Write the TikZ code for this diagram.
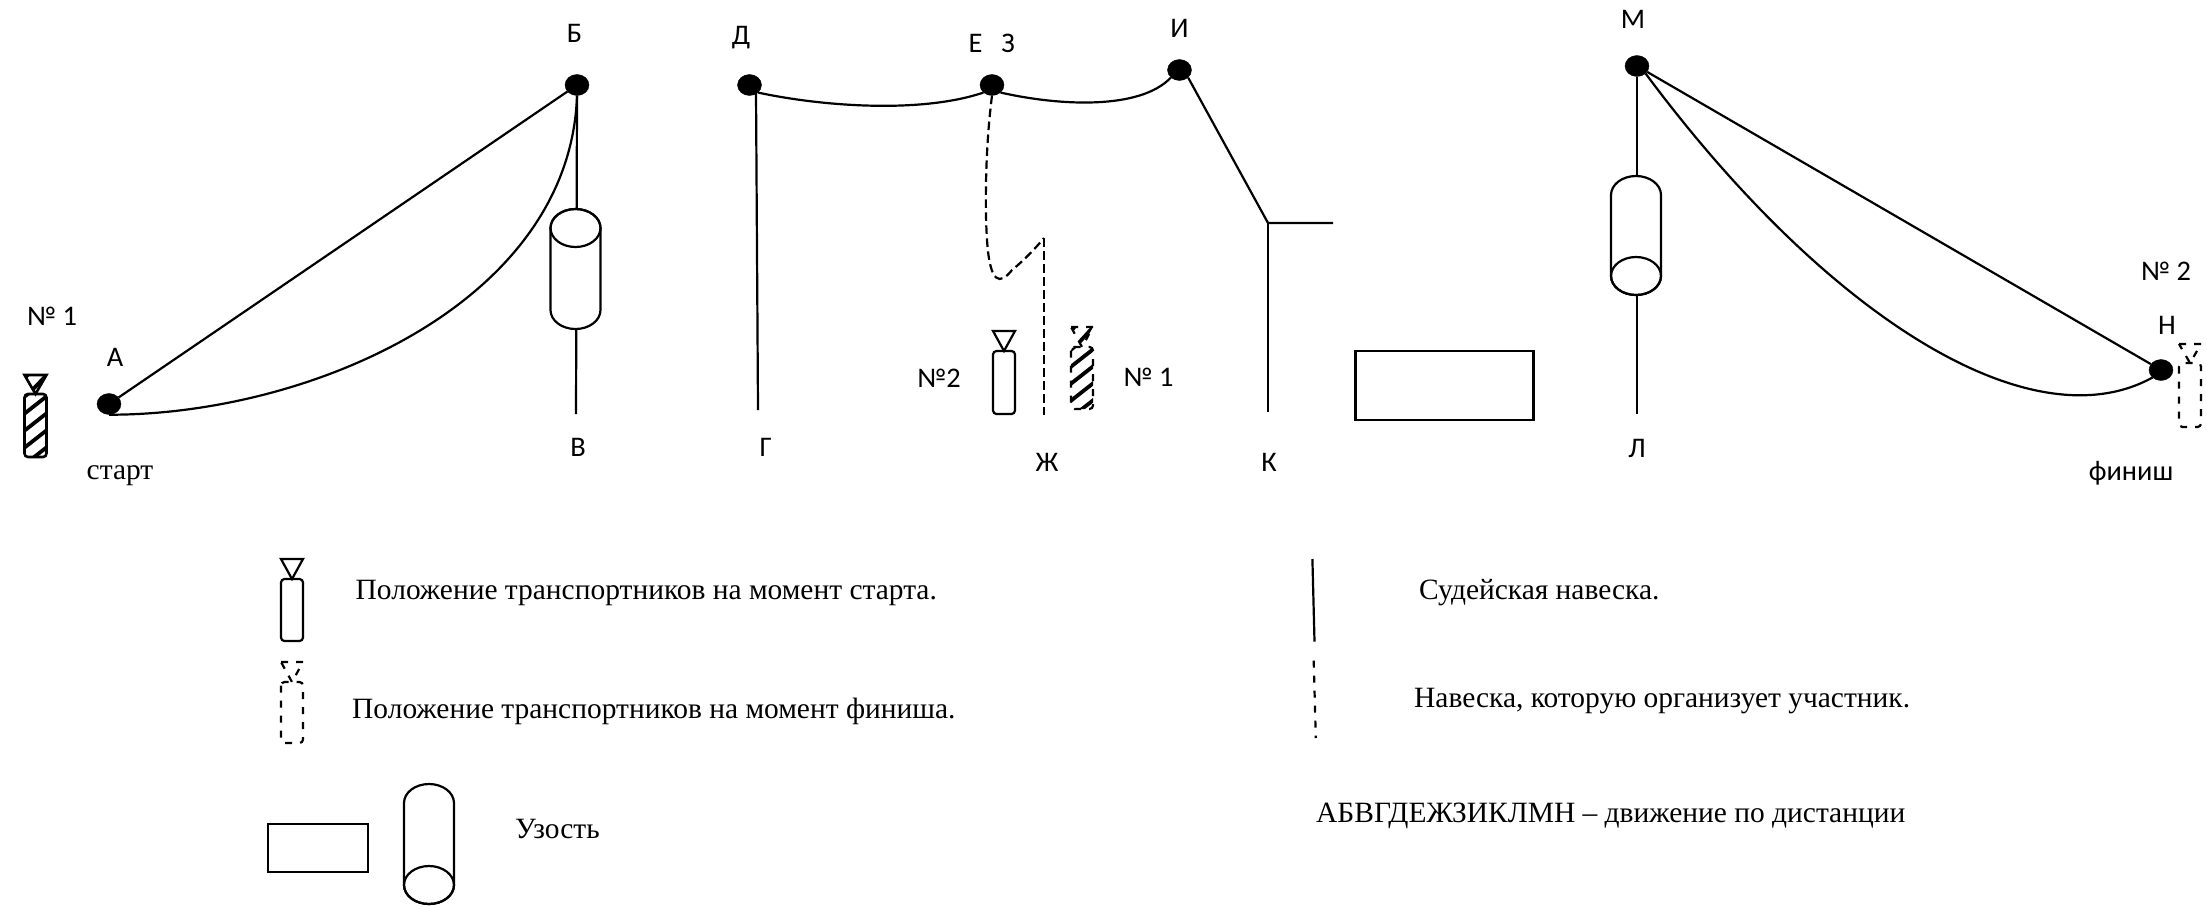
\documentclass[tikz,border=0pt]{standalone}
\usepackage{fontspec}
\setmainfont{Liberation Serif}
\newfontfamily\labfont{Carlito}
\usetikzlibrary{shapes.geometric}
\tikzset{
  line/.style={line width=2.2pt,line cap=butt},
  dashline/.style={line width=2.2pt,dash pattern=on 8.5pt off 4.5pt},
  smalldash/.style={line width=2.2pt,dash pattern=on 7pt off 8pt},
  hold/.style={ellipse,fill=black,draw=black,minimum width=24pt,minimum height=21pt,inner sep=0pt},
  lab/.style={font=\labfont\fontsize{28.4}{32}\selectfont,inner sep=0pt},
  ser/.style={font=\fontsize{29.45}{34}\selectfont,inner sep=0pt,anchor=base west},
  cylbody/.style={line width=2.2pt,draw=black,fill=white}
}
% style, left x, triangle top, apex y, bottom y
\newcommand{\transp}[5]{%
  \draw[#1] (#2,#3) -- (#2+22,#3) -- (#2+11,#4) -- cycle;
  \draw[#1,rounded corners=3.5pt] (#2,#4) rectangle (#2+22,#5);}
\newcommand{\hatched}[4]{%
  \begin{scope}
    \clip[rounded corners=3.5pt] (#1,#3) rectangle (#1+22,#4);
    \foreach \k in {-1,...,4}
      \draw[line width=3.8pt] (#1-3,#3+\k*17+22) -- (#1+25,#3+\k*17);
  \end{scope}
  \begin{scope}
    \clip (#1,#2) -- (#1+22,#2) -- (#1+11,#3) -- cycle;
    \draw[line width=3.8pt] (#1+4,#3) -- (#1+24,#2-2);
    \draw[line width=3.8pt] (#1-6,#3-8) -- (#1+8,#2-6);
  \end{scope}}
\newcommand{\cylshell}[3]{%
  \draw[cylbody] (#1-25,#2+19) arc[start angle=180,end angle=360,x radius=25,y radius=19]
    -- (#1+25,#3-19) arc[start angle=0,end angle=180,x radius=25,y radius=19] -- cycle;}
\newcommand{\cyltop}[3]{\cylshell{#1}{#2}{#3}%
  \draw[line width=2.2pt] (#1,#2+19) ellipse[x radius=25,y radius=19];}
\newcommand{\cylbot}[3]{\cylshell{#1}{#2}{#3}%
  \draw[line width=2.2pt] (#1,#3-19) ellipse[x radius=25,y radius=19];}
\begin{document}
\begin{tikzpicture}[x=1pt,y=-1pt]
\useasboundingbox (0,0) rectangle (2207,906);

% anchor points
\node[hold] (A) at (109,404) {};
\node[hold] (B) at (577,85) {};
\node[hold] (D) at (749.5,85) {};
\node[hold] (E) at (992,85) {};
\node[hold] (I) at (1179.5,70) {};
\node[hold] (M) at (1637,66) {};
\node[hold] (N) at (2161,370) {};
\coordinate (Vend) at (576,414);
\coordinate (Dlow) at (756,92);
\coordinate (Gend) at (758,410);
\coordinate (Zhtop) at (1044,238);
\coordinate (Zhend) at (1044,415);
\coordinate (Kcorner) at (1268,223);
\coordinate (Kright) at (1333,223);
\coordinate (Kend) at (1268,412);
\coordinate (Lend) at (1637,414);

% first stage
\draw[line] (A) -- (B);
\draw[line] (A.south) .. controls (310,415) and (570,303) .. (B.south);
\draw[line] (B.south) -- (Vend);
\cyltop{575.5}{209}{329}

% second stage
\draw[line] (Dlow) -- (Gend);
\draw[line] (D.south east) .. controls (820,106) and (920,114) .. (E.south west);
\draw[line] (E.south east) .. controls (1060,106) and (1140,110) .. (I.south west);
\draw[dashline] (E.south) .. controls (985,150) and (985,210) .. (987,240) .. controls (990,285) and (1000,285) .. (1012,270) .. controls (1022,262) and (1034,250) .. (Zhtop);
\draw[dashline] (Zhtop) -- (Zhend);
\draw[line] (I.south east) -- (Kcorner) -- (Kright);
\draw[line] (Kcorner) -- (Kend);

% third stage
\node[draw=black,line width=2.2pt,minimum width=178pt,minimum height=69pt,inner sep=0pt] (Rbox) at (1444.5,385.5) {};
\draw[line] (M) -- (Lend);
\cylbot{1636}{176}{295}
\draw[line] (M) -- (N);
\draw[line] (M.south east) .. controls (1825,315) and (2030,445) .. (N.south west);

% transporters
\hatched{24.5}{375}{394}{457}
\transp{line width=2.6pt}{24.5}{375}{394}{457}
\transp{line width=2.2pt}{993}{331}{351}{414}
\hatched{1071}{327}{347}{409}
\transp{smalldash}{1071}{327}{347}{409}
\transp{smalldash}{2179}{344}{363}{427}

% point labels
\node[lab] (lB) at (574.5,33) {Б};
\node[lab] (lV) at (578,447) {В};
\node[lab] (lA) at (115,357) {А};
\node[lab] (lN1) at (52,316) {№ 1};
\node[ser,anchor=center] (lStart) at (120,476) {старт};
\node[lab] (lD) at (741,38) {Д};
\node[lab] (lE) at (975.5,43) {Е};
\node[lab] (lZ) at (1008,43) {З};
\node[lab] (lI) at (1179.5,28) {И};
\node[lab] (lG) at (765.6,447) {Г};
\node[lab] (lZh) at (1047,462) {Ж};
\node[lab] (lK) at (1269,462) {К};
\node[lab] (lNo2) at (939,378) {№2};
\node[lab] (lNo1) at (1148.6,377) {№ 1};
\node[lab] (lM) at (1633,19) {М};
\node[lab] (lL) at (1637,448) {Л};
\node[lab] (lH) at (2167,325) {Н};
\node[lab] (lN2) at (2166,271) {№ 2};
\node[lab] (lF) at (2131,473) {финиш};

% legend
\transp{line width=2.2pt}{281}{559}{579}{641}
\transp{smalldash}{281}{662}{682}{743}
\node[ser] (t1) at (355.5,599) {Положение транспортников на момент старта.};
\node[ser] (t2) at (352,718) {Положение транспортников на момент финиша.};
\node[draw=black,line width=2.2pt,minimum width=100pt,minimum height=48pt,inner sep=0pt] (Lbox) at (318,848) {};
\cylbot{429}{784}{904}
\node[ser] (t3) at (515,838) {Узость};
\coordinate (Ja) at (1312.4,559);
\coordinate (Jb) at (1314.5,641.7);
\coordinate (Pa) at (1313.7,660.7);
\coordinate (Pb) at (1315.8,738);
\draw[line] (Ja) -- (Jb);
\draw[smalldash] (Pa) -- (Pb);
\node[ser] (t4) at (1419,599) {Судейская навеска.};
\node[ser] (t5) at (1414,707) {Навеска, которую организует участник.};
\node[ser] (t6) at (1316,822) {АБВГДЕЖЗИКЛМН – движение по дистанции};
\end{tikzpicture}
\end{document}
